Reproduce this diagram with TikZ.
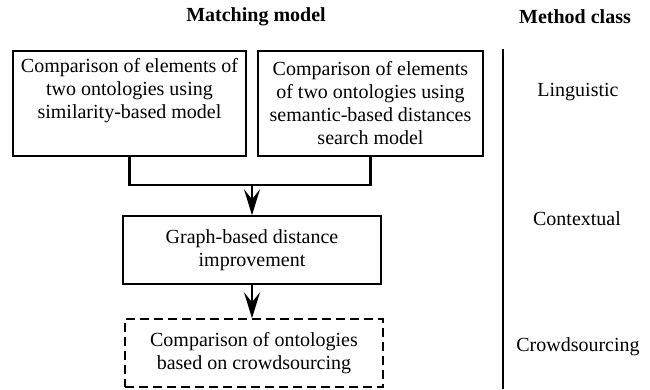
\documentclass[tikz,border=0pt]{standalone}
\usepackage{fontspec}
\setmainfont{Liberation Serif}
\usetikzlibrary{arrows.meta}
\begin{document}
\begin{tikzpicture}[x=1pt,y=-1pt,
  every node/.style={font=\fontsize{20}{23}\selectfont, inner sep=0pt, align=center},
  box/.style={draw, line width=1.5pt, rectangle},
  dbox/.style={box, dash pattern=on 9pt off 5pt},
  conn/.style={line width=2.4pt, line join=miter},
  arr/.style={conn, -{Stealth[length=26pt,width=16pt,inset=10pt]}},
  title/.style={font=\fontsize{20}{23}\selectfont\bfseries},
  cls/.style={}]
\useasboundingbox (0,0) rectangle (650,389);
\node[title] (t1) at (256,17) {Matching model};
\node[title] (t2) at (575,17) {Method class};
\node[box, minimum width=233pt, minimum height=105pt] (b1) at (129.5,103.5)
  {Comparison of elements of\\two ontologies using\\similarity-based model\\\strut};
\node[box, minimum width=225pt, minimum height=105pt] (b2) at (370.5,103.5)
  {Comparison of elements\\of two ontologies using\\semantic-based distances\\search model};
\node[box, minimum width=258pt, minimum height=68pt] (b3) at (252,250)
  {Graph-based distance\\improvement};
\node[dbox, minimum width=258pt, minimum height=68pt] (b4) at (254,353)
  {Comparison of ontologies\\based on crowdsourcing};
\coordinate (j) at (252,185);
\draw[conn] (b1.south) |- (b2.south |- j) -- (b2.south);
\draw[arr] (j) -- (b3.north);
\draw[arr] (b3.south) -- (b3.south |- b4.north);
\coordinate (vtop) at (503,49);
\coordinate (vbot) at (503,389);
\draw[line width=1.5pt] (vtop) -- (vbot);
\node[cls] (c1) at (578,92) {Linguistic};
\node[cls] (c2) at (577,219) {Contextual};
\node[cls] (c3) at (578,347) {Crowdsourcing};
\end{tikzpicture}
\end{document}
